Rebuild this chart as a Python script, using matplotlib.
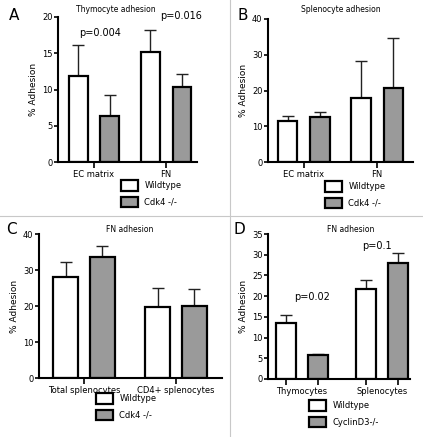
import matplotlib
matplotlib.use('Agg')
import matplotlib.pyplot as plt
from matplotlib.patches import Patch
from matplotlib.lines import Line2D
import numpy as np

W, H = 423, 437

# Panel A - thymocyte adhesion
a_groups = ['EC matrix', 'FN']
a_wt = [11.9, 15.2]
a_wt_err = [4.2, 3.0]
a_ko = [6.4, 10.4]
a_ko_err = [2.9, 1.8]

# Panel B - splenocyte adhesion
b_groups = ['EC matrix', 'FN']
b_wt = [11.5, 17.8]
b_wt_err = [1.5, 10.4]
b_ko = [12.6, 20.8]
b_ko_err = [1.3, 13.8]

# Panel C - FN adhesion
c_groups = ['Total splenocytes', 'CD4+ splenocytes']
c_wt = [28.1, 19.6]
c_wt_err = [4.0, 5.4]
c_ko = [33.7, 20.1]
c_ko_err = [2.9, 4.7]

# Panel D - FN adhesion, CyclinD3
d_groups = ['Thymocytes', 'Splenocytes']
d_wt = [13.6, 21.8]
d_wt_err = [1.8, 2.0]
d_ko = [5.8, 28.0]
d_ko_err = [0.2, 2.3]

GRAY = '#9a9a9a'
FS = 6


def ax_at(fig, left, right, top, bottom):
    # pixel box -> figure fraction
    return fig.add_axes([left / W, 1 - bottom / H, (right - left) / W, (bottom - top) / H])


def draw_panel(ax, groups, wt, wt_err, ko, ko_err, off, width, xlim, ymax, ystep, bar_ticks=False):
    x = np.arange(len(groups))
    for xs, vals, errs, col in [(x - off, wt, wt_err, 'white'), (x + off, ko, ko_err, GRAY)]:
        ax.errorbar(xs, vals, yerr=[np.zeros(len(vals)), errs], fmt='none', ecolor='#222222',
                    elinewidth=1.0, capsize=4.5, capthick=1.0, zorder=1)
        ax.bar(xs, vals, width=width, color=col, edgecolor='black', linewidth=1.6, zorder=2)
    ax.set_xlim(*xlim)
    ax.set_ylim(0, ymax)
    ax.set_yticks(np.arange(0, ymax + 0.1, ystep))
    for s in ['top', 'right']:
        ax.spines[s].set_visible(False)
    for s in ['left', 'bottom']:
        ax.spines[s].set_linewidth(1.5)
    ax.tick_params(axis='y', labelsize=FS, length=3, width=1.2, pad=1)
    if bar_ticks:
        ax.set_xticks(np.concatenate([x - off, x + off]))
        ax.set_xticklabels([])
        ax.tick_params(axis='x', which='major', length=4, width=1.2)
        ax.set_xticks(x, minor=True)
        ax.set_xticklabels(groups, minor=True)
        ax.tick_params(axis='x', which='minor', length=0, labelsize=FS, pad=5.5)
    else:
        ax.set_xticks(x)
        ax.set_xticklabels(groups)
        ax.tick_params(axis='x', labelsize=FS, length=4, width=1.2, pad=1.5)
    ax.set_ylabel('% Adhesion', fontsize=FS + 0.5, labelpad=3)


def legend_at(ax, x, y, ko_label):
    handles = [Patch(facecolor='white', edgecolor='black', linewidth=1.6, label='Wildtype'),
               Patch(facecolor=GRAY, edgecolor='black', linewidth=1.6, label=ko_label)]
    ax.legend(handles=handles, loc='upper left', bbox_to_anchor=(x / W, 1 - y / H),
              bbox_transform=ax.figure.transFigure, frameon=False, fontsize=FS,
              handlelength=2.0, handleheight=1.6, labelspacing=0.7, handletextpad=0.8,
              borderpad=0, borderaxespad=0)


fig = plt.figure(figsize=(W / 100, H / 100), dpi=100)

axA = ax_at(fig, 58, 197, 17, 162)
draw_panel(axA, a_groups, a_wt, a_wt_err, a_ko, a_ko_err, 0.22, 0.26, (-0.5, 1.43), 20, 5)
legend_at(axA, 121, 180, 'Cdk4 -/-')
axA.text(0.08, 17.8, 'p=0.004', fontsize=7, ha='center', va='center')
axA.text(1.21, 20.1, 'p=0.016', fontsize=7, ha='center', va='center', clip_on=False)

axB = ax_at(fig, 268, 413, 19, 162)
draw_panel(axB, b_groups, b_wt, b_wt_err, b_ko, b_ko_err, 0.22, 0.26, (-0.49, 1.49), 40, 10)
legend_at(axB, 325, 181, 'Cdk4 -/-')

axC = ax_at(fig, 39, 222, 234, 378)
draw_panel(axC, c_groups, c_wt, c_wt_err, c_ko, c_ko_err, 0.2, 0.27, (-0.49, 1.5), 40, 10)
legend_at(axC, 96, 393, 'Cdk4 -/-')

axD = ax_at(fig, 268, 410, 234, 379)
draw_panel(axD, d_groups, d_wt, d_wt_err, d_ko, d_ko_err, 0.2, 0.24, (-0.425, 1.35), 35, 5, bar_ticks=True)
legend_at(axD, 309, 400, 'CyclinD3-/-')
axD.text(0.125, 19.8, 'p=0.02', fontsize=7, ha='center', va='center')
axD.text(0.94, 32.1, 'p=0.1', fontsize=7, ha='center', va='center')

# panel titles
for tx, ty, t in [(116, 9, 'Thymocyte adhesion'), (341, 10, 'Splenocyte adhesion'),
                  (130, 229, 'FN adhesion'), (351, 229, 'FN adhesion')]:
    fig.text(tx / W, 1 - ty / H, t, fontsize=5.5, ha='center', va='center')

# panel letters
for tx, ty, t in [(14, 15, 'A'), (243, 15, 'B'), (11, 229, 'C'), (239, 229, 'D')]:
    fig.text(tx / W, 1 - ty / H, t, fontsize=11, ha='center', va='center')

# divider lines
fig.add_artist(Line2D([0, 1], [1 - 216 / H] * 2, color='#c8c8c8', lw=0.8, transform=fig.transFigure))
fig.add_artist(Line2D([230 / W] * 2, [0, 1], color='#c8c8c8', lw=0.8, transform=fig.transFigure))

fig.savefig('out.png', dpi=100)
